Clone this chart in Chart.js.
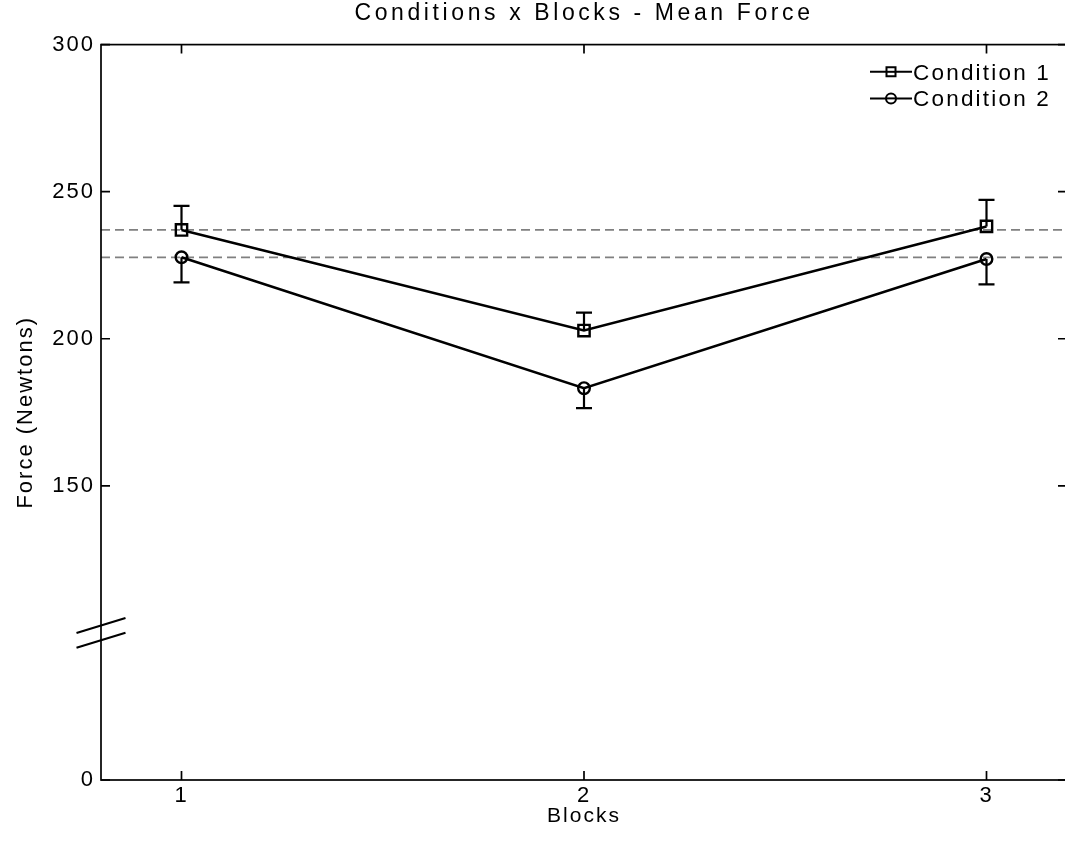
<!DOCTYPE html>
<html><head><meta charset="utf-8">
<script src="https://cdn.jsdelivr.net/npm/chart.js@4.4.1/dist/chart.umd.min.js"></script>
<style>
html,body{margin:0;padding:0;background:#fff;overflow:hidden;width:1065px;height:844px}
#wrap{position:absolute;left:0;top:0;width:1080px;height:844px}
</style></head><body>
<div id="wrap"><canvas id="c"></canvas></div>
<script>
// ---- data ----
const blocks = [1, 2, 3];
const xTickLabels = ['1', '2', '3'];
const seriesLabels = ['Condition 1', 'Condition 2'];
const condition1 = [237.0, 202.8, 238.2];
const condition1ErrUp = [8.2, 6.1, 9.0];      // drawn upward only
const condition2 = [227.7, 183.2, 227.1];
const condition2ErrDown = [8.5, 6.8, 8.6];    // drawn downward only
const referenceLines = [237.0, 227.7];
// broken axis: the lowest tick (value 50 on the scale) is labelled "0"
const yTickValues = [50, 150, 200, 250, 300];
const yTickLabels = ['0', '150', '200', '250', '300'];
const axisBreakValue = 100;

const FONT = "'Liberation Sans', Arial, Helvetica, sans-serif";

const decor = {
  id: 'decor',
  beforeDraw(chart) { chart.ctx.letterSpacing = '3.6px'; },
  beforeDatasetsDraw(chart) {
    const {ctx, chartArea: a, scales: {x, y}} = chart;
    ctx.save();
    ctx.strokeStyle = '#808080'; ctx.lineWidth = 1.8; ctx.setLineDash([9, 5]);
    referenceLines.forEach(v => {
      const py = y.getPixelForValue(v);
      ctx.beginPath(); ctx.moveTo(a.left, py); ctx.lineTo(a.right, py); ctx.stroke();
    });
    ctx.setLineDash([]);
    ctx.strokeStyle = '#000'; ctx.lineWidth = 2.2;
    const bars = [[condition1, condition1ErrUp, 1], [condition2, condition2ErrDown, -1]];
    bars.forEach(([vals, errs, dir]) => {
      vals.forEach((v, i) => {
        const px = x.getPixelForValue(blocks[i]);
        const p0 = y.getPixelForValue(v), p1 = y.getPixelForValue(v + dir * errs[i]);
        ctx.beginPath();
        ctx.moveTo(px, p0); ctx.lineTo(px, p1);
        ctx.moveTo(px - 8, p1); ctx.lineTo(px + 8, p1);
        ctx.stroke();
      });
    });
    ctx.restore();
  },
  afterDatasetsDraw(chart) { chart.ctx.letterSpacing = '2px'; },
  afterDraw(chart) {
    const {ctx, chartArea: a, scales: {x, y}} = chart;
    ctx.save();
    ctx.strokeStyle = '#000'; ctx.lineWidth = 1.7;
    ctx.strokeRect(a.left, a.top, a.right - a.left, a.bottom - a.top);
    ctx.beginPath();
    yTickValues.forEach(v => {
      const py = y.getPixelForValue(v);
      ctx.moveTo(a.left, py); ctx.lineTo(a.left + 9, py);
      ctx.moveTo(a.right, py); ctx.lineTo(a.right - 9, py);
    });
    blocks.forEach(v => {
      const px = x.getPixelForValue(v);
      ctx.moveTo(px, a.bottom); ctx.lineTo(px, a.bottom - 9);
      ctx.moveTo(px, a.top); ctx.lineTo(px, a.top + 9);
    });
    ctx.stroke();
    // axis break marks
    const pb = y.getPixelForValue(axisBreakValue);
    ctx.lineWidth = 2.2;
    ctx.beginPath();
    [-7.35, 7.35].forEach(o => {
      ctx.moveTo(a.left - 24.5, pb + o + 7.5); ctx.lineTo(a.left + 24.5, pb + o - 7.5);
    });
    ctx.stroke();
    // legend
    const lx0 = a.right - 197, lx1 = a.right - 155, mx = a.right - 176, tx = a.right - 154;
    const rows = [a.top + 27.2, a.top + 53.8];
    ctx.font = '22.5px ' + FONT;
    ctx.textBaseline = 'alphabetic';
    ctx.textAlign = 'left';
    ctx.letterSpacing = '2.2px';
    rows.forEach((ry, i) => {
      ctx.lineWidth = 2;
      ctx.beginPath(); ctx.moveTo(lx0, ry); ctx.lineTo(lx1, ry); ctx.stroke();
      ctx.fillStyle = '#fff';
      ctx.beginPath();
      if (i === 0) ctx.rect(mx - 4.5, ry - 4.5, 9, 9); else ctx.arc(mx, ry, 5, 0, Math.PI * 2);
      ctx.fill(); ctx.stroke();
      ctx.beginPath(); ctx.moveTo(mx - 4.5, ry); ctx.lineTo(mx + 4.5, ry); ctx.stroke();
      ctx.fillStyle = '#000';
      ctx.fillText(seriesLabels[i], tx, ry + 7.9);
    });
    ctx.restore();
  }
};

new Chart(document.getElementById('c'), {
  type: 'line',
  data: {
    datasets: [
      { label: seriesLabels[0], data: blocks.map((b, i) => ({x: b, y: condition1[i]})),
        borderColor: '#000', borderWidth: 2.6, pointStyle: 'rect', pointRadius: 8,
        pointBorderWidth: 2.4, pointBorderColor: '#000', pointBackgroundColor: 'rgba(0,0,0,0)', tension: 0 },
      { label: seriesLabels[1], data: blocks.map((b, i) => ({x: b, y: condition2[i]})),
        borderColor: '#000', borderWidth: 2.6, pointStyle: 'circle', pointRadius: 5.8,
        pointBorderWidth: 2.4, pointBorderColor: '#000', pointBackgroundColor: 'rgba(0,0,0,0)', tension: 0 }
    ]
  },
  options: {
    responsive: true, maintainAspectRatio: false, animation: false, devicePixelRatio: 1,
    layout: { padding: { left: 0, right: 13, top: 0, bottom: 0 } },
    plugins: {
      legend: { display: false },
      tooltip: { enabled: false },
      title: { display: true, text: 'Conditions x Blocks - Mean Force', fullSize: false, color: '#000',
        font: { size: 23, weight: 'normal', family: FONT, lineHeight: 1.2 }, padding: { top: 0, bottom: 17 } }
    },
    scales: {
      x: {
        type: 'linear', position: 'bottom', min: 0.8, max: 3.2,
        grid: { display: false, drawTicks: false, z: 1 }, border: { display: false },
        ticks: { z: 1, padding: 2.5, color: '#000', autoSkip: false, maxRotation: 0,
          font: { size: 22, family: FONT },
          callback: v => { const i = blocks.indexOf(v); return i >= 0 ? xTickLabels[i] : ''; } },
        afterBuildTicks: s => { s.ticks = blocks.map(v => ({value: v})); },
        afterFit: s => { s.height = 64; },
        title: { display: true, text: 'Blocks', color: '#000', font: { size: 21, family: FONT, lineHeight: 1.2 },
          padding: { top: 0, bottom: 15 } }
      },
      y: {
        type: 'linear', position: 'left', min: 50, max: 300,
        grid: { display: false, drawTicks: false, z: 1 }, border: { display: false },
        ticks: { z: 1, padding: 6, color: '#000', font: { size: 22, family: FONT },
          callback: v => { const i = yTickValues.indexOf(v); return i >= 0 ? yTickLabels[i] : ''; } },
        afterBuildTicks: s => { s.ticks = yTickValues.map(v => ({value: v})); },
        afterFit: s => { s.width = 101; },
        title: { display: true, text: 'Force (Newtons)', color: '#000', font: { size: 22, family: FONT, lineHeight: 1.2 },
          padding: { top: 12.5, bottom: 0 } }
      }
    }
  },
  plugins: [decor]
});
</script>
</body></html>
